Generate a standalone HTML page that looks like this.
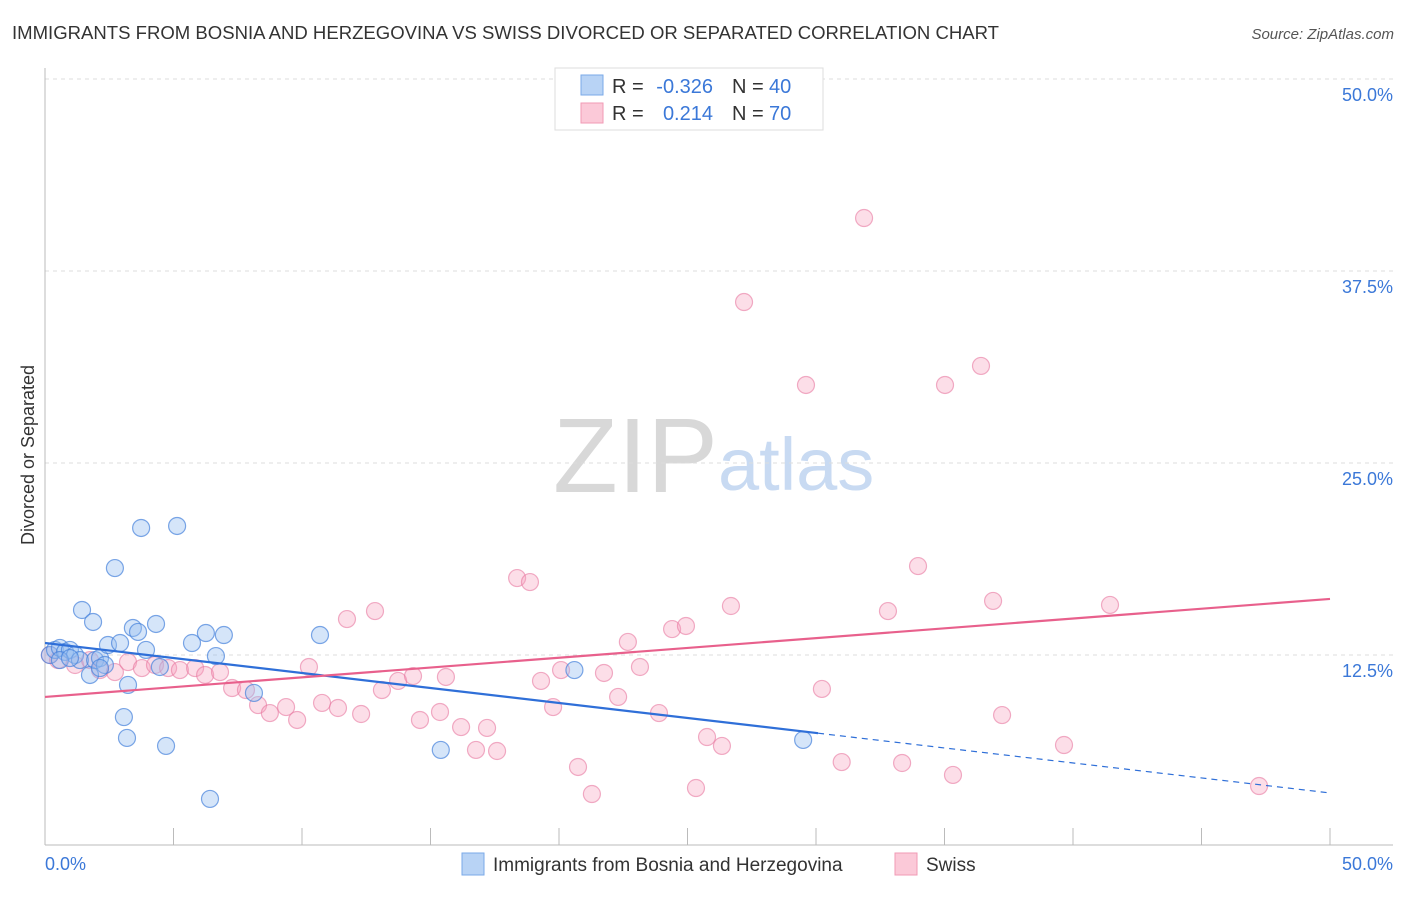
<!DOCTYPE html>
<html><head><meta charset="utf-8"><style>
body{margin:0;background:#fff;font-family:"Liberation Sans",sans-serif;}
svg text{font-family:"Liberation Sans",sans-serif;}
</style></head><body>
<svg id="chart" width="1406" height="892" xmlns="http://www.w3.org/2000/svg">
<text x="12" y="39" font-size="18" fill="#333" textLength="987" lengthAdjust="spacingAndGlyphs">IMMIGRANTS FROM BOSNIA AND HERZEGOVINA VS SWISS DIVORCED OR SEPARATED CORRELATION CHART</text>
<text x="1394" y="39" font-size="15" fill="#555" text-anchor="end" font-style="italic">Source: ZipAtlas.com</text>
<g>
<text x="553" y="492" font-size="106" fill="#d8d8d8" font-family="Liberation Serif,serif">ZIP</text>
<text x="718" y="490" font-size="74" fill="#c8daf2">atlas</text>
</g>
<g id="grid"></g>
<g id="axes"></g>
<g id="marks"></g>
<text transform="translate(34,455) rotate(-90)" font-size="18" fill="#333" text-anchor="middle">Divorced or Separated</text>
<g>
<rect x="555" y="68" width="268" height="62" fill="#fff" stroke="#ddd"/>
<rect x="581" y="75" width="22" height="20" fill="#b8d3f5" stroke="#7aaae8"/>
<rect x="581" y="103" width="22" height="20" fill="#fbc9d8" stroke="#f09ab5"/>
<text x="612" y="93" font-size="20" fill="#333">R =</text>
<text x="713" y="93" font-size="20" fill="#3b78d8" text-anchor="end">-0.326</text>
<text x="732" y="93" font-size="20" fill="#333">N =</text>
<text x="769" y="93" font-size="20" fill="#3b78d8">40</text>
<text x="612" y="120" font-size="20" fill="#333">R =</text>
<text x="713" y="120" font-size="20" fill="#3b78d8" text-anchor="end">0.214</text>
<text x="732" y="120" font-size="20" fill="#333">N =</text>
<text x="769" y="120" font-size="20" fill="#3b78d8">70</text>
</g>
<g>
<rect x="462" y="853" width="22" height="22" fill="#b8d3f5" stroke="#7aaae8"/>
<text x="493" y="871" font-size="19" fill="#333">Immigrants from Bosnia and Herzegovina</text>
<rect x="895" y="853" width="22" height="22" fill="#fbc9d8" stroke="#f09ab5"/>
<text x="926" y="871" font-size="19" fill="#333">Swiss</text>
</g>
</svg>
<script>
const yTicks=[12.5,25,37.5,50];
const yTickLabels=["12.5%","25.0%","37.5%","50.0%"];
const xTicks=[0,5,10,15,20,25,30,35,40,45,50];
const blueX=[0.19,0.39,0.58,0.78,0.97,1.17,1.36,1.75,1.95,2.14,2.33,2.45,1.44,1.87,2.72,2.92,3.23,3.07,3.19,3.42,3.62,3.74,3.93,4.32,4.47,4.71,5.14,5.72,6.26,6.42,6.65,6.96,8.13,10.7,15.4,20.6,29.5,0.58,0.97,2.14];
const blueY=[12.5,12.83,12.96,12.7,12.83,12.5,12.17,11.2,12.17,12.3,11.85,13.15,15.43,14.65,18.16,13.28,10.55,8.46,7.1,14.26,14.0,20.77,12.83,14.52,11.72,6.58,20.9,13.28,13.93,3.13,12.43,13.8,10.03,13.8,6.32,11.52,6.97,12.17,12.3,11.65];
const pinkX=[0.19,0.51,1.17,1.75,2.14,2.72,3.23,3.77,4.28,4.79,5.25,5.84,6.23,6.81,7.28,7.82,8.29,8.75,9.38,9.81,10.27,10.78,11.4,11.75,12.3,12.84,13.11,13.74,14.32,14.59,15.37,15.6,16.19,16.77,17.2,17.59,18.37,18.87,19.3,19.77,20.08,20.74,21.28,21.75,22.3,22.68,23.15,23.89,24.4,24.94,25.33,25.76,26.34,26.69,27.2,29.61,30.23,31.0,31.87,32.8,33.35,33.97,35.02,35.33,36.42,36.89,37.24,39.65,41.44,47.24];
const pinkY=[12.5,12.17,11.85,12.17,11.52,11.39,12.04,11.65,11.85,11.65,11.52,11.65,11.2,11.39,10.35,10.22,9.24,8.72,9.11,8.27,11.72,9.38,9.05,14.84,8.66,15.36,10.22,10.81,11.13,8.27,8.79,11.07,7.81,6.32,7.75,6.25,17.51,17.25,10.81,9.11,11.52,5.21,3.45,11.33,9.77,13.35,11.72,8.72,14.19,14.39,3.84,7.16,6.58,15.69,35.48,30.08,10.29,5.53,40.95,15.36,5.47,18.29,30.08,4.69,31.32,16.02,8.59,6.64,15.76,3.97];
const blueTrend=[13.28,3.52];const blueSolidEnd=30.08;
const pinkTrend=[9.77,16.15];
const NS='http://www.w3.org/2000/svg';
const sx=v=>45+v*25.7, sy=v=>847-v*15.36;
function mk(tag,attrs,parent){const e=document.createElementNS(NS,tag);for(const k in attrs)e.setAttribute(k,attrs[k]);document.getElementById(parent).appendChild(e);return e;}
yTicks.forEach((t,i)=>{
 const l=mk('line',{x1:45,x2:1393,y1:sy(t),y2:sy(t),stroke:'#ddd','stroke-dasharray':'4,4'},'grid');
 
 
 const tx=mk('text',{x:1393,y:sy(t)+22,'font-size':18,fill:'#3b78d8','text-anchor':'end'},'grid');
 tx.textContent=yTickLabels[i];
 
 
});
let a=mk('line',{x1:45,x2:45,y1:68,y2:845,stroke:'#bbb'},'axes');


a=mk('line',{x1:45,x2:1393,y1:845,y2:845,stroke:'#bbb'},'axes');


xTicks.forEach(t=>{const l=mk('line',{x1:sx(t),x2:sx(t),y1:828,y2:845,stroke:'#bbb'},'axes');
 
 });
[[0,'0.0%','start',45],[50,'50.0%','end',1393]].forEach(d=>{const t=mk('text',{x:d[3],y:870,'font-size':18,fill:'#3b78d8','text-anchor':d[2]},'axes');t.textContent=d[1];
 
 });
pinkX.forEach((x,i)=>{const c=mk('circle',{cx:sx(x),cy:sy(pinkY[i]),r:8.5,fill:'rgba(246,160,188,0.35)',stroke:'rgba(232,120,160,0.6)','stroke-width':1.2},'marks');
 
 });
blueX.forEach((x,i)=>{const c=mk('circle',{cx:sx(x),cy:sy(blueY[i]),r:8.5,fill:'rgba(150,190,240,0.4)',stroke:'rgba(70,130,220,0.7)','stroke-width':1.2},'marks');
 
 });
const by=x=>blueTrend[0]+(blueTrend[1]-blueTrend[0])*x/50;
let t=mk('line',{x1:sx(0),y1:sy(by(0)),x2:sx(blueSolidEnd),y2:sy(by(blueSolidEnd)),stroke:'#2f6fd8','stroke-width':2.2},'marks');


t=mk('line',{x1:sx(blueSolidEnd),y1:sy(by(blueSolidEnd)),x2:sx(50),y2:sy(by(50)),stroke:'#2f6fd8','stroke-width':1.2,'stroke-dasharray':'6,5'},'marks');


t=mk('line',{x1:sx(0),y1:sy(pinkTrend[0]),x2:sx(50),y2:sy(pinkTrend[1]),stroke:'#e8608c','stroke-width':2.2},'marks');


</script>
</body></html>
